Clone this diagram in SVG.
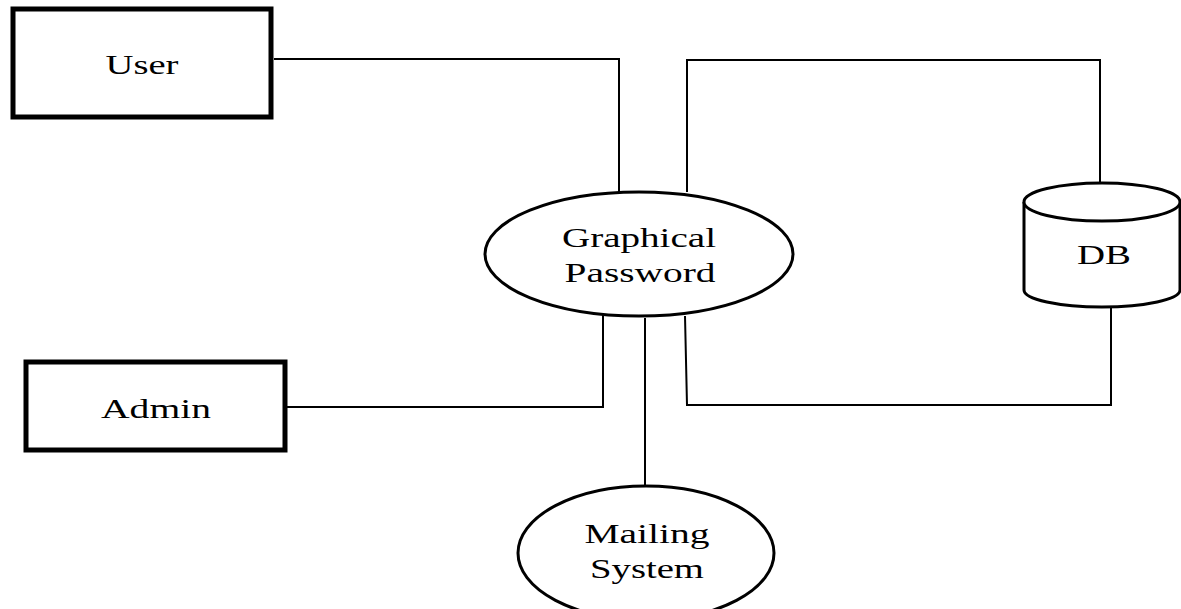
<svg xmlns="http://www.w3.org/2000/svg" width="1181" height="609" viewBox="0 0 1181 609">
<style>
.box{fill:#fff;stroke:#000;stroke-width:5}
.shape{fill:#fff;stroke:#000;stroke-width:3}
.conn{fill:none;stroke:#000;stroke-width:2}
text{font-family:"Liberation Serif","Times New Roman",serif;font-size:28px;fill:#000;text-anchor:middle}
</style>
<rect width="1181" height="609" fill="#fff"/>
<g id="connectors">
<polyline class="conn" points="274,59 619,59 619,192"/>
<polyline class="conn" points="687,192 687,60 1100,60 1100,184"/>
<polyline class="conn" points="1111,305 1111,405 687,405 685,316"/>
<polyline class="conn" points="287,407 603,407 603,315"/>
<line class="conn" x1="645" y1="318" x2="645" y2="487"/>
</g>
<g id="user">
<rect class="box" x="13" y="9" width="258" height="108"/>
<text x="142" y="74" textLength="73" lengthAdjust="spacingAndGlyphs">User</text>
</g>
<g id="admin">
<rect class="box" x="26" y="362" width="259" height="88"/>
<text x="156" y="418" textLength="110" lengthAdjust="spacingAndGlyphs">Admin</text>
</g>
<g id="graphical-password">
<ellipse class="shape" cx="639" cy="254" rx="154" ry="62"/>
<text x="639" y="247" textLength="154" lengthAdjust="spacingAndGlyphs">Graphical</text>
<text x="640" y="282" textLength="151" lengthAdjust="spacingAndGlyphs">Password</text>
</g>
<g id="db">
<path class="shape" d="M1024,202 L1024,290 A78,17 0 0 0 1180,290 L1180,202"/>
<ellipse class="shape" cx="1102" cy="202" rx="78" ry="19"/>
<text x="1104" y="264" textLength="54" lengthAdjust="spacingAndGlyphs">DB</text>
</g>
<g id="mailing-system">
<ellipse class="shape" cx="646" cy="553" rx="128" ry="67"/>
<text x="647" y="543" textLength="125" lengthAdjust="spacingAndGlyphs">Mailing</text>
<text x="647" y="578" textLength="114" lengthAdjust="spacingAndGlyphs">System</text>
</g>
</svg>
